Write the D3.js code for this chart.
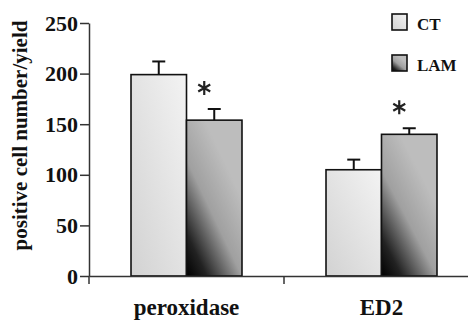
<!DOCTYPE html>
<html>
<head>
<meta charset="utf-8">
<script src="https://cdn.jsdelivr.net/npm/d3@7/dist/d3.min.js"></script>
<style>
  body { margin: 0; background: #fff; }
  text { font-family: "Liberation Serif", "Times New Roman", serif; font-weight: bold; fill: #111; }
</style>
</head>
<body>
<div id="chart"></div>
<script>
// data
const groups = ['peroxidase', 'ED2'];
const series = ['CT', 'LAM'];
const ctValues = [199, 105];
const ctErrors = [13, 10];
const lamValues = [154, 140];
const lamErrors = [11, 6];
const significant = [true, true]; // asterisk over LAM bars
const yTicks = [0, 50, 100, 150, 200, 250];
const yLabel = 'positive cell number/yield';

const width = 468, height = 320;
const margin = { left: 89, top: 23, bottom: 44 };
const baseY = height - margin.bottom; // 276

const svg = d3.select('#chart').append('svg')
  .attr('width', width)
  .attr('height', height);

// gradients (light CT, dark-to-grey LAM)
const defs = svg.append('defs');
const gCT = defs.append('linearGradient').attr('id', 'gradCT')
  .attr('x1', 0).attr('y1', 1).attr('x2', 1).attr('y2', 0);
gCT.append('stop').attr('offset', 0).attr('stop-color', '#d2d2d2');
gCT.append('stop').attr('offset', 1).attr('stop-color', '#f3f3f3');
const gLAM = defs.append('linearGradient').attr('id', 'gradLAM')
  .attr('x1', 0).attr('y1', 1).attr('x2', 0.6).attr('y2', 0.2);
gLAM.append('stop').attr('offset', 0).attr('stop-color', '#000');
gLAM.append('stop').attr('offset', 0.22).attr('stop-color', '#222');
gLAM.append('stop').attr('offset', 0.6).attr('stop-color', '#a0a0a0');
gLAM.append('stop').attr('offset', 1).attr('stop-color', '#bdbdbd');
const fills = { CT: 'url(#gradCT)', LAM: 'url(#gradLAM)' };

const y = d3.scaleLinear().domain([0, 250]).range([baseY, margin.top]);
const x = d3.scaleBand().domain(groups).range([margin.left, margin.left + 390]).padding(0);
const xs = d3.scaleBand().domain(series).range([0, x.bandwidth()])
  .paddingInner(0).paddingOuter(0.757);

const rows = groups.map((g, i) => ({
  group: g,
  bars: [
    { key: 'CT', value: ctValues[i], err: ctErrors[i], star: false },
    { key: 'LAM', value: lamValues[i], err: lamErrors[i], star: significant[i] }
  ]
}));

// bars
const grp = svg.selectAll('.grp').data(rows).enter().append('g')
  .attr('class', 'grp')
  .attr('transform', d => `translate(${x(d.group)},0)`);

// error bars (upward only)
const eb = grp.selectAll('.err').data(d => d.bars).enter().append('g').attr('class', 'err');
eb.append('line')
  .attr('x1', d => xs(d.key) + xs.bandwidth() / 2)
  .attr('x2', d => xs(d.key) + xs.bandwidth() / 2)
  .attr('y1', d => y(d.value))
  .attr('y2', d => y(d.value + d.err))
  .attr('stroke', '#111').attr('stroke-width', 2);
eb.append('line')
  .attr('x1', d => xs(d.key) + xs.bandwidth() / 2 - 6.5)
  .attr('x2', d => xs(d.key) + xs.bandwidth() / 2 + 6.5)
  .attr('y1', d => y(d.value + d.err))
  .attr('y2', d => y(d.value + d.err))
  .attr('stroke', '#111').attr('stroke-width', 2);

grp.selectAll('rect').data(d => d.bars).enter().append('rect')
  .attr('x', d => xs(d.key))
  .attr('y', d => y(d.value))
  .attr('width', xs.bandwidth())
  .attr('height', d => baseY - y(d.value))
  .attr('fill', d => fills[d.key])
  .attr('stroke', '#111')
  .attr('stroke-width', 1.6);

// significance asterisks
const star = d3.symbol().type(d3.symbolAsterisk).size(135);
grp.selectAll('.star').data(d => d.bars.filter(b => b.star)).enter().append('path')
  .attr('class', 'star')
  .attr('d', star)
  .attr('transform', d => `translate(${xs(d.key) + xs.bandwidth() / 2 - 10},${y(d.value + d.err) - 21})`)
  .attr('fill', 'none')
  .attr('stroke', '#222')
  .attr('stroke-width', 2.2);

// y axis
const yAxis = svg.append('g')
  .attr('transform', `translate(${margin.left},0)`)
  .call(d3.axisLeft(y).tickValues(yTicks).tickSize(9).tickSizeOuter(0).tickPadding(2));
yAxis.select('.domain').attr('stroke', '#333').attr('stroke-width', 1.5);
yAxis.selectAll('.tick line').attr('stroke', '#333').attr('stroke-width', 1.5);
yAxis.selectAll('.tick text')
  .style('font-family', '"Liberation Serif", "Times New Roman", serif')
  .style('font-weight', 'bold')
  .style('font-size', '22px')
  .attr('fill', '#111');

// x axis
const xAxis = svg.append('g')
  .attr('transform', `translate(0,${baseY})`)
  .call(d3.axisBottom(x).tickSize(0).tickSizeOuter(0).tickPadding(23));
xAxis.select('.domain').attr('stroke', '#333').attr('stroke-width', 1.5);
xAxis.selectAll('.tick text')
  .style('font-family', '"Liberation Serif", "Times New Roman", serif')
  .style('font-weight', 'bold')
  .style('font-size', '23px')
  .attr('fill', '#111');
// boundary ticks between groups
xAxis.selectAll('.sep').data(groups).enter().append('line')
  .attr('x1', d => x(d)).attr('x2', d => x(d))
  .attr('y1', 0).attr('y2', 8)
  .attr('stroke', '#333').attr('stroke-width', 1.5);

// y title
svg.append('text')
  .attr('transform', `translate(27,${(margin.top + 248) / 2}) rotate(-90)`)
  .attr('text-anchor', 'middle')
  .style('font-size', '21px')
  .text(yLabel);

// legend
const legend = svg.selectAll('.legend').data(series).enter().append('g')
  .attr('class', 'legend')
  .attr('transform', (d, i) => `translate(392,${14 + i * 41})`);
legend.append('rect')
  .attr('width', 15).attr('height', 16)
  .attr('fill', d => fills[d])
  .attr('stroke', '#111').attr('stroke-width', 1.6);
legend.append('text')
  .attr('x', 25).attr('y', 16)
  .style('font-size', '17px')
  .text(d => d);
</script>
</body>
</html>
